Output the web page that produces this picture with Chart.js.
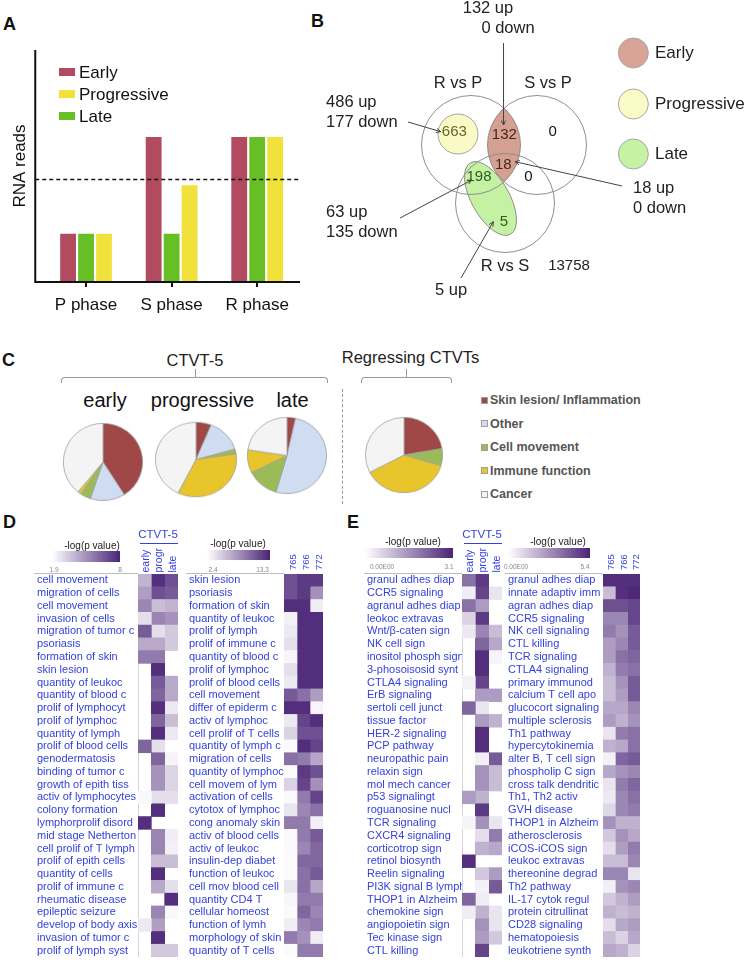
<!DOCTYPE html>
<html>
<head>
<meta charset="utf-8">
<title>Figure</title>
<script src="https://cdn.jsdelivr.net/npm/chart.js@4.4.1/dist/chart.umd.min.js"></script>
<style>
body { margin: 0; background: #fff; }
#fig { position: relative; width: 747px; height: 964px; overflow: hidden; background: #fff; font-family: "Liberation Sans", Arial, sans-serif; }
#fig canvas { position: absolute; }
.t { position: absolute; white-space: nowrap; line-height: 1; }
</style>
</head>
<body>
<div id="fig"></div>
<script>
// ---------- A: reads per phase ----------
const phaseLabels = ['P phase', 'S phase', 'R phase'];
const earlyReads = [1, 3, 3];
const lateReads = [1, 1, 3];
const progressiveReads = [1, 2, 3];
const readThreshold = 2.12;

// ---------- B: venn counts ----------
const vennSets = ['R vs P', 'S vs P', 'R vs S'];
const vennGroups = ['Early', 'Progressive', 'Late'];
const regionCounts = [663, 132, 0, 18, 0, 198, 5];
const outsideCount = 13758;
const regionUp = [486, 132, 18, 63, 5];
const regionDown = [177, 0, 0, 135, null];

// ---------- C: pathway shares (%) ----------
const pieCategories = ['Skin lesion/ Inflammation', 'Other', 'Cell movement', 'Immune function', 'Cancer'];
const pieGroups = ['early', 'progressive', 'late'];
const pieEarly = [41.0, 14.2, 4.3, 1.4, 39.1];
const pieProgressive = [6.1, 14.4, 2.1, 34.7, 42.7];
const pieLate = [3.5, 51.0, 13.2, 9.7, 22.6];
const pieRegressing = [22.3, 0, 7.3, 37.8, 32.6];

// ---------- D: -log(p) ----------
const stageCols = ['early', 'progr', 'late'];
const dogCols = ['765', '766', '772'];
const d1Terms = ['cell movement', 'migration of cells', 'cell movement', 'invasion of cells', 'migration of tumor c', 'psoriasis', 'formation of skin', 'skin lesion', 'quantity of leukoc', 'quantity of blood c', 'prolif of lymphocyt', 'prolif of lymphoc', 'quantity of lymph', 'prolif of blood cells', 'genodermatosis', 'binding of tumor c', 'growth of epith tiss', 'activ of lymphocytes', 'colony formation', 'lymphorprolif disord', 'mid stage Netherton', 'cell prolif of T lymph', 'prolif of epith cells', 'quantity of cells', 'prolif of immune c', 'rheumatic disease', 'epileptic seizure', 'develop of body axis', 'invasion of tumor c', 'prolif of lymph syst'];
const d1Early = [4.0, 4.6, 5.3, 2.8, 6.5, 4.3, 5.6, null, null, null, null, null, null, 6.2, null, null, null, 2.1, null, 7.7, null, null, null, null, null, null, null, 2.5, null, null];
const d1Progr = [7.7, 6.8, 3.7, 5.3, 2.8, 4.3, 5.6, 7.7, 6.5, 6.2, 7.7, 6.2, 7.7, 2.8, 6.2, 4.9, 4.9, 2.8, 7.7, null, 5.3, 5.3, 3.7, 7.7, 4.3, null, 5.3, 4.6, 7.7, 3.4];
const d1Late = [6.8, 6.5, 4.0, 4.9, 3.4, 3.4, null, null, 4.3, 4.3, 2.5, 3.7, 2.5, null, 2.2, 3.1, 3.1, 2.8, null, null, 2.4, 2.3, 3.7, null, 2.8, 7.7, 2.1, null, null, 3.4];
const d1Range = [1.9, 8];

const d2Terms = ['skin lesion', 'psoriasis', 'formation of skin', 'quantity of leukoc', 'prolif of lymph', 'prolif of immune c', 'quantity of blood c', 'prolif of lymphoc', 'prolif of blood cells', 'cell movement', 'differ of epiderm c', 'activ of lymphoc', 'cell prolif of T cells', 'quantity of lymph c', 'migration of cells', 'quantity of lymphoc', 'cell movem of lym', 'activation of cells', 'cytotox of lymphoc', 'cong anomaly skin', 'activ of blood cells', 'activ of leukoc', 'insulin-dep diabet', 'function of leukoc', 'cell mov blood cell', 'quantity CD4 T', 'cellular homeost', 'function of lymh', 'morphology of skin', 'quantity of T cells'];
const d2Dog765 = [11.1, 11.1, 12.8, 3.1, 3.5, 4.0, 2.9, 4.0, 3.5, 10.6, 12.8, 3.5, 4.6, 2.6, 9.5, 2.6, 4.6, 2.7, 3.7, 9.0, 2.7, 2.7, 2.6, 2.6, 3.7, 2.9, 2.7, 3.3, 9.0, 2.6];
const d2Dog766 = [12.2, 12.2, 12.8, 12.8, 12.8, 12.8, 12.8, 12.8, 12.8, 9.5, 12.8, 11.7, 11.1, 12.8, 9.0, 12.2, 11.7, 9.0, 8.4, 9.0, 9.0, 8.4, 10.0, 9.5, 9.5, 9.0, 10.0, 8.4, 7.9, 9.0];
const d2Dog772 = [12.2, 7.9, 3.3, 12.8, 12.8, 12.8, 12.8, 12.8, 12.8, 7.3, 2.9, 12.8, 11.1, 11.7, 6.8, 11.1, 7.9, 11.7, 9.5, 3.2, 10.6, 10.0, 10.0, 10.6, 6.8, 9.0, 8.4, 9.0, 3.3, 9.0];
const d2Range = [2.4, 13.3];

// ---------- E: -log(p) ----------
const e1Terms = ['granul adhes diap', 'CCR5 signaling', 'agranul adhes diap', 'leokoc extravas', 'Wnt/β-caten sign', 'NK cell sign', 'inositol phosph sign', '3-phosoisosid synt', 'CTLA4 signaling', 'ErB signaling', 'sertoli cell junct', 'tissue factor', 'HER-2 signaling', 'PCP pathway', 'neuropathic pain', 'relaxin sign', 'mol mech cancer', 'p53 signalingt', 'roguanosine nucl', 'TCR signaling', 'CXCR4 signaling', 'corticotrop sign', 'retinol biosynth', 'Reelin signaling', 'PI3K signal B lymph', 'THOP1 in Alzheim', 'chemokine sign', 'angiopoietin sign', 'Tec kinase sign', 'CTL killing'];
const e1Early = [2.02, 0.25, 2.02, 0.62, 0.31, null, null, null, 0.19, null, 2.17, null, null, null, null, null, null, 1.4, null, 0.16, null, null, 2.95, null, null, 2.17, 0.25, null, null, null];
const e1Progr = [2.79, 2.64, 1.4, 2.79, 1.71, 2.17, 2.95, 2.95, 2.64, 1.4, 0.37, 1.4, 2.95, 2.95, 0.22, 1.55, 1.55, 1.09, 2.79, 1.55, 0.47, 1.09, null, 0.78, 0.19, 0.25, 1.09, 1.55, 1.4, 2.64];
const e1Late = [null, 0.37, null, null, 0.93, 1.24, 0.16, null, null, 1.4, null, 1.09, null, null, 2.33, 0.93, 0.93, null, null, 0.37, 1.86, 1.24, null, 1.4, 2.33, null, 0.37, 0.37, 0.78, null];
const e1Range = [0, 3.1];

const e2Terms = ['granul adhes diap', 'innate adaptiv imm', 'agran adhes diap', 'CCR5 signaling', 'NK cell signaling', 'CTL killing', 'TCR signaling', 'CTLA4 signaling', 'primary immunod', 'calcium T cell apo', 'glucocort signaling', 'multiple sclerosis', 'Th1 pathway', 'hypercytokinemia', 'alter B, T cell sign', 'phospholip C sign', 'cross talk dendritic', 'Th1, Th2 activ', 'GVH disease', 'THOP1 in Alzheim', 'atherosclerosis', 'iCOS-iCOS sign', 'leukoc extravas', 'thereonine degrad', 'Th2 pathway', 'IL-17 cytok regul', 'protein citrullinat', 'CD28 signaling', 'hematopoiesis', 'leukotriene synth'];
const e2Dog765 = [5.13, 1.62, 4.32, 2.97, 3.24, 2.43, 2.43, 1.89, 1.62, 1.62, 2.16, 2.43, 0.65, 1.89, 0.32, 2.16, 0.65, 0.54, 0.97, 2.7, 1.35, 0.81, 1.62, 2.97, 0.38, 1.35, 1.89, 0.81, 1.62, 2.16];
const e2Dog766 = [5.13, 5.13, 4.32, 2.97, 2.7, 2.97, 3.51, 3.24, 2.7, 2.43, 2.16, 1.89, 3.24, 2.16, 3.78, 2.7, 3.24, 2.97, 2.97, 1.89, 2.7, 2.43, 1.62, 2.97, 2.7, 1.89, 1.62, 2.16, 1.08, 1.89];
const e2Dog772 = [5.13, 5.29, 4.59, 4.59, 4.05, 4.05, 3.78, 3.51, 4.05, 4.05, 2.97, 2.7, 3.51, 3.51, 4.05, 2.97, 3.78, 3.51, 3.24, 1.89, 2.16, 3.24, 2.97, 0.65, 2.97, 2.43, 1.89, 2.43, 2.16, 1.08];
const e2Range = [0, 5.4];

// ---------- look ----------
const FONT = '"Liberation Sans", Arial, sans-serif';
const BLUE = '#3342dc';
const HEAT_DARK = [74, 36, 118];
const phaseColors = {Early: '#b24b5f', Late: '#67bf25', Progressive: '#f0e13b'};
const vennColors = ['#d9a396', '#fbfbc8', '#c3f3a3'];
const pieColors = ['#a04848', '#cfdcf2', '#9bbb59', '#e8c52a', '#f4f4f4'];

Chart.defaults.font.family = FONT;
Chart.defaults.animation = false;
Chart.defaults.events = [];
Chart.defaults.plugins.legend.display = false;
Chart.defaults.plugins.tooltip.enabled = false;

const fig = document.getElementById('fig');

function put(text, x, y, o = {}) {
  const d = document.createElement('div');
  d.className = 't';
  d.textContent = text;
  d.style.left = x + 'px';
  d.style.top = y + 'px';
  d.style.fontSize = (o.size || 12) + 'px';
  d.style.color = o.color || '#111';
  if (o.bold) d.style.fontWeight = 'bold';
  const ax = o.align === 'center' ? '-50%' : (o.align === 'right' ? '-100%' : '0');
  d.style.transform = 'translate(' + ax + ',-50%)';
  fig.appendChild(d);
  return d;
}

function box(x, y, w, h, css) {
  const d = document.createElement('div');
  d.style.position = 'absolute';
  d.style.left = x + 'px';
  d.style.top = y + 'px';
  d.style.width = w + 'px';
  d.style.height = h + 'px';
  d.style.boxSizing = 'border-box';
  Object.assign(d.style, css || {});
  fig.appendChild(d);
  return d;
}

function makeCanvas(x, y, w, h, cssW, cssH) {
  const c = document.createElement('canvas');
  c.width = w;
  c.height = h;
  c.style.left = x + 'px';
  c.style.top = y + 'px';
  c.style.width = (cssW || w) + 'px';
  c.style.height = (cssH || h) + 'px';
  fig.appendChild(c);
  return c;
}

// panel letters
put('A', 3, 24, {size: 18, bold: true});
put('B', 311, 21, {size: 18, bold: true});
put('C', 2, 360, {size: 18, bold: true});
put('D', 3, 521.5, {size: 18, bold: true});
put('E', 347, 521.5, {size: 18, bold: true});

// ================= A =================
const axesA = {
  id: 'axesA',
  afterDatasetsDraw(chart) {
    const {ctx, chartArea: a, scales: {y}} = chart;
    const x0 = a.left - 8;
    ctx.save();
    ctx.strokeStyle = '#111';
    ctx.lineWidth = 2;
    ctx.beginPath();
    ctx.moveTo(x0, a.top);
    ctx.lineTo(x0, a.bottom);
    ctx.lineTo(a.right, a.bottom);
    ctx.stroke();
    const ty = y.getPixelForValue(readThreshold);
    ctx.lineWidth = 1.5;
    ctx.setLineDash([4, 3]);
    ctx.beginPath();
    ctx.moveTo(x0, ty);
    ctx.lineTo(a.right, ty);
    ctx.stroke();
    ctx.restore();
  }
};

const chartA = new Chart(makeCanvas(0, 0, 300, 322), {
  type: 'bar',
  data: {
    labels: phaseLabels,
    datasets: [
      {label: 'Early', data: earlyReads, backgroundColor: phaseColors.Early},
      {label: 'Late', data: lateReads, backgroundColor: phaseColors.Late},
      {label: 'Progressive', data: progressiveReads, backgroundColor: phaseColors.Progressive}
    ]
  },
  options: {
    responsive: false,
    layout: {padding: {top: 50, left: 0, right: 0, bottom: 0}},
    datasets: {bar: {categoryPercentage: 0.63, barPercentage: 0.88}},
    scales: {
      x: {
        grid: {display: true, drawOnChartArea: false, offset: false, tickLength: 5, lineWidth: 2, color: '#111'},
        border: {display: false},
        ticks: {padding: 8, color: '#111', font: {size: 17}},
        afterFit: s => { s.height = 40; }
      },
      y: {
        min: 0, max: 4.8,
        grid: {display: false},
        border: {display: false},
        ticks: {display: false},
        title: {display: true, text: 'RNA reads', color: '#111', font: {size: 17}, padding: {top: 10.5, bottom: 0}},
        afterFit: s => { s.width = 43.25; }
      }
    }
  },
  plugins: [axesA]
});

// legend of A, in the legend order of the figure
['Early', 'Progressive', 'Late'].forEach((name, i) => {
  const ds = chartA.data.datasets.find(d => d.label === name);
  const cy = 72 + i * 22;
  box(59, cy - 4, 16, 8, {background: ds.backgroundColor});
  put(ds.label, 79, cy, {size: 17});
});

// ================= B =================
const vennLayout = {
  sets: [[0, 0], [1.333, 0], [0.687, -1.172]],
  setLabels: [[-0.263, 1.25], [1.556, 1.25], [0.687, -2.458]],
  progressive: {x: -0.263, y: 0.222, r: 0.404},
  late: {x: 0.394, y: -1.081, a: 0.828, b: 0.384, angle: -60.7},
  regions: [[-0.337, 0.269], [0.673, 0.202], [1.65, 0.269], [0.653, -0.404], [1.158, -0.653], [0.162, -0.653], [0.667, -1.562]],
  regionInk: ['#66662a', '#4a2420', '#111', '#4a2420', '#111', '#2f5a1f', '#2f5a1f'],
  outside: [1.98, -2.444],
  notes: [
    {up: [-2.929, 0.869], down: [-2.929, 0.465], align: 'left', from: [-1.273, 0.465], to: [-0.612, 0.269]},
    {up: [0.343, 2.762], down: [0.747, 2.358], align: 'center', from: [0.657, 2.06], to: [0.657, 0.404]},
    {up: [3.273, -0.869], down: [3.273, -1.273], align: 'left', from: [3.05, -0.828], to: [0.889, -0.337]},
    {up: [-2.929, -1.354], down: [-2.929, -1.758], align: 'left', from: [-1.434, -1.475], to: [0.014, -0.707]},
    {up: [-0.404, -2.929], down: null, align: 'center', from: [-0.202, -2.687], to: [0.451, -1.549]}
  ],
  legend: {x: 3.28, ys: [1.859, 0.828, -0.182], r: 0.303, tx: 3.717}
};

const unitPx = ch => ch.scales.x.getPixelForValue(1) - ch.scales.x.getPixelForValue(0);
const sizeRadius = c => (c.raw ? c.raw.size * unitPx(c.chart) : 0);

function arrow(ctx, x1, y1, x2, y2) {
  const ang = Math.atan2(y2 - y1, x2 - x1);
  const h = 5;
  ctx.beginPath();
  ctx.moveTo(x1, y1);
  ctx.lineTo(x2, y2);
  ctx.moveTo(x2 - h * Math.cos(ang - 0.45), y2 - h * Math.sin(ang - 0.45));
  ctx.lineTo(x2, y2);
  ctx.lineTo(x2 - h * Math.cos(ang + 0.45), y2 - h * Math.sin(ang + 0.45));
  ctx.stroke();
}

const vennShapes = {
  id: 'vennShapes',
  beforeDatasetsDraw(chart) {
    const {ctx, scales: {x, y}} = chart;
    const u = unitPx(chart);
    const L = vennLayout.late;
    const px = x.getPixelForValue(L.x), py = y.getPixelForValue(L.y);
    const ang = L.angle * Math.PI / 180;
    const qx = x.getPixelForValue(L.x + L.a * Math.cos(ang));
    const qy = y.getPixelForValue(L.y + L.a * Math.sin(ang));
    ctx.save();
    ctx.beginPath();
    ctx.ellipse(px, py, Math.hypot(qx - px, qy - py), L.b * u, Math.atan2(qy - py, qx - px), 0, Math.PI * 2);
    ctx.fillStyle = '#c4f2a2';
    ctx.fill();
    ctx.strokeStyle = '#8e8e8e';
    ctx.lineWidth = 1;
    ctx.stroke();
    // early = overlap of the first two sets
    const [s1, s2] = vennLayout.sets;
    ctx.beginPath();
    ctx.arc(x.getPixelForValue(s1[0]), y.getPixelForValue(s1[1]), u, 0, Math.PI * 2);
    ctx.clip();
    ctx.beginPath();
    ctx.arc(x.getPixelForValue(s2[0]), y.getPixelForValue(s2[1]), u, 0, Math.PI * 2);
    ctx.fillStyle = '#d4a092';
    ctx.fill();
    ctx.restore();
  },
  afterDatasetsDraw(chart) {
    const {ctx, scales: {x, y}} = chart;
    const X = v => x.getPixelForValue(v), Y = v => y.getPixelForValue(v);
    ctx.save();
    ctx.textBaseline = 'middle';
    // set names
    ctx.font = '16.5px ' + FONT;
    ctx.fillStyle = '#222';
    ctx.textAlign = 'center';
    vennSets.forEach((s, i) => ctx.fillText(s, X(vennLayout.setLabels[i][0]), Y(vennLayout.setLabels[i][1])));
    // region counts
    ctx.font = '15px ' + FONT;
    regionCounts.forEach((n, i) => {
      ctx.fillStyle = vennLayout.regionInk[i];
      ctx.fillText(String(n), X(vennLayout.regions[i][0]), Y(vennLayout.regions[i][1]));
    });
    ctx.fillStyle = '#222';
    ctx.fillText(String(outsideCount), X(vennLayout.outside[0]), Y(vennLayout.outside[1]));
    // up / down notes with arrows
    ctx.font = '16.5px ' + FONT;
    ctx.strokeStyle = '#444';
    ctx.lineWidth = 1;
    regionUp.forEach((up, i) => {
      const n = vennLayout.notes[i];
      ctx.textAlign = n.align;
      ctx.fillStyle = '#222';
      ctx.fillText(up + ' up', X(n.up[0]), Y(n.up[1]));
      if (regionDown[i] !== null) ctx.fillText(regionDown[i] + ' down', X(n.down[0]), Y(n.down[1]));
      arrow(ctx, X(n.from[0]), Y(n.from[1]), X(n.to[0]), Y(n.to[1]));
    });
    // legend text
    ctx.font = '17px ' + FONT;
    ctx.textAlign = 'left';
    vennGroups.forEach((g, i) => ctx.fillText(g, X(vennLayout.legend.tx), Y(vennLayout.legend.ys[i])));
    ctx.restore();
  }
};

new Chart(makeCanvas(300, 0, 447, 320), {
  type: 'scatter',
  data: {
    datasets: [
      {
        label: 'sets',
        data: vennLayout.sets.map(([x, y]) => ({x, y, size: 1})),
        pointRadius: sizeRadius,
        pointBackgroundColor: 'rgba(0,0,0,0)',
        pointBorderColor: '#8e8e8e',
        pointBorderWidth: 1
      },
      {
        label: 'Progressive',
        data: [{x: vennLayout.progressive.x, y: vennLayout.progressive.y, size: vennLayout.progressive.r}],
        pointRadius: sizeRadius,
        pointBackgroundColor: '#fafac6',
        pointBorderColor: '#a6a6a6',
        pointBorderWidth: 1
      },
      {
        label: 'legend',
        data: vennGroups.map((g, i) => ({x: vennLayout.legend.x, y: vennLayout.legend.ys[i], size: vennLayout.legend.r})),
        pointRadius: sizeRadius,
        pointBackgroundColor: vennColors,
        pointBorderColor: '#a6a6a6',
        pointBorderWidth: 1
      }
    ]
  },
  options: {
    responsive: false,
    layout: {padding: 0},
    scales: {
      x: {type: 'linear', min: -3.455, max: 5.576, display: false},
      y: {type: 'linear', min: -3.535, max: 2.929, display: false}
    }
  },
  plugins: [vennShapes]
});

// ================= C =================
put('CTVT-5', 195, 360, {size: 16.5, color: '#222', align: 'center'});
put('Regressing CTVTs', 410.5, 356.5, {size: 16.5, color: '#222', align: 'center'});

function bracket(x1, x2, xm, y) {
  box(x1, y, x2 - x1, 6, {border: '1px solid #9a9a9a', borderBottom: 'none', borderRadius: '4px 4px 0 0'});
  box(xm, y - 8, 1, 8, {background: '#9a9a9a'});
}
bracket(61, 328, 195, 377);
bracket(361, 452, 406, 377);
box(342, 389, 1, 115, {borderLeft: '1px dashed #9a9a9a'});

const pieTitleX = [105, 202.5, 292.5];
pieGroups.forEach((g, i) => put(g, pieTitleX[i], 400, {size: 20, color: '#111', align: 'center'}));

const pieBoxes = [
  {cx: 103.3, cy: 461.5, w: 80, h: 78},
  {cx: 196, cy: 459.3, w: 82, h: 75},
  {cx: 287, cy: 455.7, w: 80, h: 77},
  {cx: 404, cy: 454.5, w: 78, h: 76}
];
[pieEarly, pieProgressive, pieLate, pieRegressing].forEach((vals, i) => {
  const b = pieBoxes[i];
  const s = Math.max(b.w, b.h) + 4;
  const cv = makeCanvas(b.cx - (b.w + 4) / 2, b.cy - (b.h + 4) / 2, s, s, b.w + 4, b.h + 4);
  new Chart(cv, {
    type: 'pie',
    data: {
      labels: pieCategories,
      datasets: [{data: vals, backgroundColor: pieColors, borderColor: '#a0a0a0', borderWidth: 0.8}]
    },
    options: {responsive: false, layout: {padding: 2}}
  });
});

pieCategories.forEach((c, i) => {
  const cy = 400 + i * 23.6;
  box(481, cy - 3.5, 7, 7, {background: pieColors[i], border: '1px solid #a0a0a0'});
  put(c, 490, cy, {size: 12.5, bold: true, color: '#555'});
});

// ================= D / E heatmaps =================
function heatColor(v, lo, hi) {
  if (v === null) return 'rgba(0,0,0,0)';
  const t = Math.max(0, Math.min(1, (v - lo) / (hi - lo)));
  const c = HEAT_DARK.map(k => Math.round(255 + (k - 255) * t));
  return 'rgb(' + c.join(',') + ')';
}

const labelBoxLine = {
  id: 'labelBoxLine',
  afterDraw(chart) {
    const {ctx, chartArea: a} = chart;
    ctx.save();
    ctx.strokeStyle = '#bdbdbd';
    ctx.lineWidth = 1;
    ctx.beginPath();
    ctx.moveTo(0, a.top - 0.5);
    ctx.lineTo(a.left, a.top - 0.5);
    ctx.stroke();
    ctx.restore();
  }
};

function heatmap(o) {
  const axisH = 30, top = 544, h = 413;
  const left = o.x0 - 3;
  const w = Math.round(o.cellLeft + o.cellW - left);
  new Chart(makeCanvas(left, top, w, h), {
    type: 'bar',
    data: {
      labels: o.terms,
      datasets: o.series.map((vals, j) => ({
        label: o.cols[j],
        data: vals.map(v => (v === null ? null : [j, j + 1])),
        backgroundColor: vals.map(v => heatColor(v, o.range[0], o.range[1])),
        grouped: false,
        categoryPercentage: 1,
        barPercentage: 1,
        borderWidth: 0
      }))
    },
    options: {
      indexAxis: 'y',
      responsive: false,
      layout: {padding: {left: 3, top: 0, right: 0, bottom: 0}},
      scales: {
        x: {
          type: 'linear', position: 'top', min: 0, max: 3,
          grid: {display: false, drawTicks: false},
          border: {display: false},
          afterBuildTicks: s => { s.ticks = o.cols.map((c, i) => ({value: i + 0.5})); },
          ticks: {autoSkip: false, minRotation: 90, maxRotation: 90, padding: o.headPad, labelOffset: 14,
            color: BLUE, font: {size: o.headSize}, callback: (v, i) => o.cols[i]},
          afterFit: s => { s.height = axisH; s.paddingLeft = 0; s.paddingRight = 0; }
        },
        y: {
          type: 'category',
          grid: {display: false, drawTicks: false},
          border: {display: true, color: '#d4d4d4'},
          ticks: {autoSkip: false, crossAlign: 'far', padding: 0, color: BLUE, font: {size: 11}},
          afterFit: s => { s.width = o.cellLeft - o.x0; s.paddingTop = 0; s.paddingBottom = 0; }
        }
      }
    },
    plugins: [labelBoxLine]
  });
  // colour key
  const k = o.key;
  box(k.x, k.y, k.w, k.h, {background: 'linear-gradient(to right, #ffffff, rgb(' + HEAT_DARK.join(',') + '))'});
  put('-log(p value)', k.tx, k.ty, {size: 10, color: '#222', align: 'center'});
  put(k.loText, k.lox, k.ly, {size: 6.5, color: '#888', align: 'center'});
  put(String(o.range[1]), k.hix, k.ly, {size: 6.5, color: '#888', align: 'center'});
  if (o.group) {
    put(o.group, o.cellLeft + o.cellW / 2, 535, {size: 11.5, color: BLUE, align: 'center'});
    box(o.cellLeft + 2, 543, o.cellW - 2, 1, {background: BLUE});
  }
}

heatmap({terms: d1Terms, cols: stageCols, series: [d1Early, d1Progr, d1Late], range: d1Range,
  x0: 37, cellLeft: 138, cellW: 40, headPad: 1.5, headSize: 10.5, group: 'CTVT-5',
  key: {x: 52, y: 551, w: 68, h: 11, tx: 92, ty: 546, loText: '1.9', lox: 54, hix: 120, ly: 570}});
heatmap({terms: d2Terms, cols: dogCols, series: [d2Dog765, d2Dog766, d2Dog772], range: d2Range,
  x0: 189, cellLeft: 284, cellW: 39, headPad: 4, headSize: 9.5,
  key: {x: 207, y: 550, w: 63, h: 10, tx: 238, ty: 544, loText: '2.4', lox: 213, hix: 262.5, ly: 570}});
heatmap({terms: e1Terms, cols: stageCols, series: [e1Early, e1Progr, e1Late], range: e1Range,
  x0: 367, cellLeft: 462, cellW: 40, headPad: 1.5, headSize: 10.5, group: 'CTVT-5',
  key: {x: 365, y: 548, w: 88, h: 10, tx: 413, ty: 542, loText: '0.00E00', lox: 382, hix: 449, ly: 567}});
heatmap({terms: e2Terms, cols: dogCols, series: [e2Dog765, e2Dog766, e2Dog772], range: e2Range,
  x0: 508, cellLeft: 603, cellW: 37, headPad: 4, headSize: 9.5,
  key: {x: 508, y: 548, w: 82, h: 10, tx: 558, ty: 542, loText: '0.00E00', lox: 516, hix: 585, ly: 567}});
</script>
</body>
</html>
